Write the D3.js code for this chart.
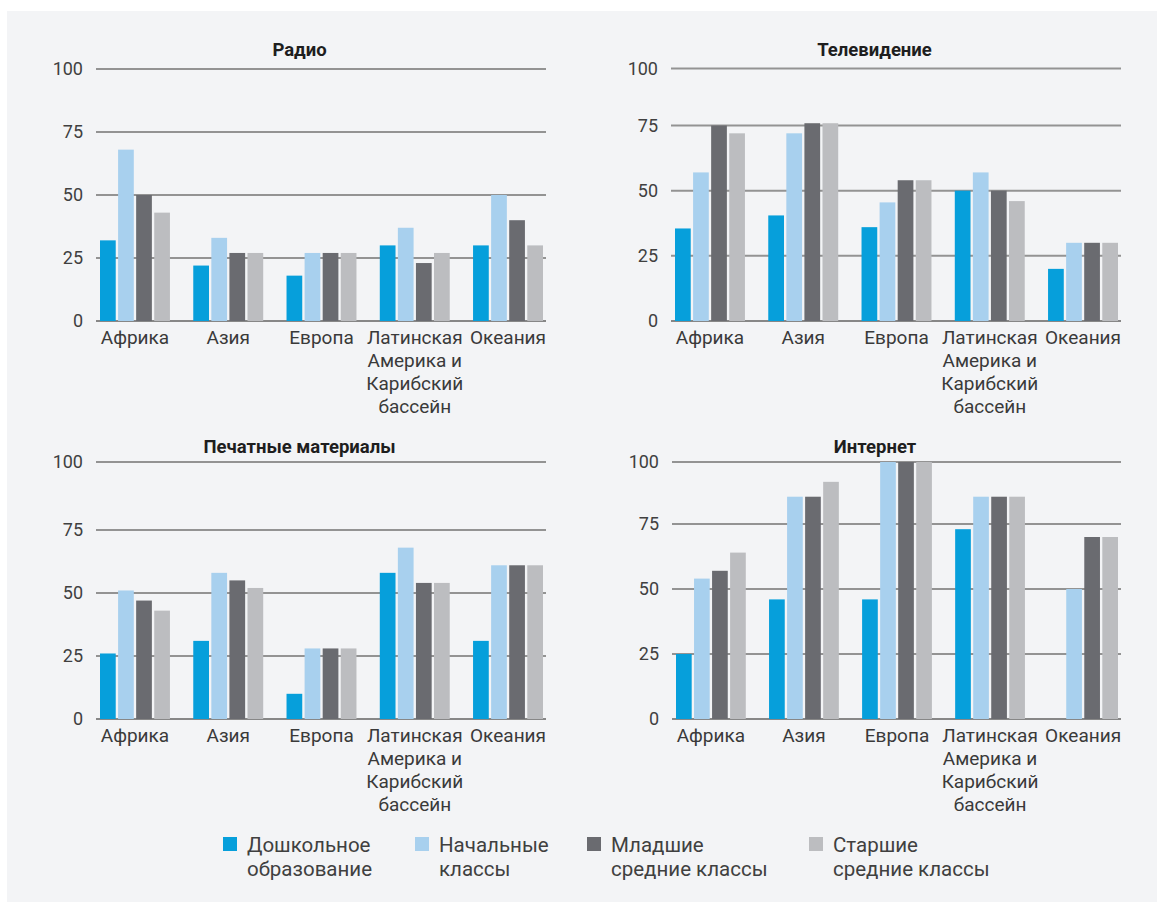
<!DOCTYPE html>
<html>
<head>
<meta charset="utf-8">
<script src="https://cdn.jsdelivr.net/npm/d3@7"></script>
<style>
  html, body { margin: 0; padding: 0; background: #ffffff; }
  svg { display: block; }
  text { font-family: Roboto, "Noto Sans", sans-serif; }
</style>
</head>
<body>
<svg id="chart" width="1157" height="902"></svg>
<script>
// ---------- data ----------
const categories = [
  ["Африка"],
  ["Азия"],
  ["Европа"],
  ["Латинская", "Америка и", "Карибский", "бассейн"],
  ["Океания"]
];
const seriesNames = [
  ["Дошкольное", "образование"],
  ["Начальные", "классы"],
  ["Младшие", "средние классы"],
  ["Старшие", "средние классы"]
];
const titles = ["Радио", "Телевидение", "Печатные материалы", "Интернет"];
const yTicks = [0, 25, 50, 75, 100];

// values per category: [дошкольное, начальные, младшие средние, старшие средние]
const radioValues = [[32, 68, 50, 43], [22, 33, 27, 27], [18, 27, 27, 27], [30, 37, 23, 27], [30, 50, 40, 30]];
const tvValues = [[35.5, 57, 75, 72], [40.5, 72, 76, 76], [36, 45.5, 54, 54], [50, 57, 50, 46], [20, 30, 30, 30]];
const printValues = [[26, 51, 47, 43], [31, 58, 55, 52], [10, 28, 28, 28], [58, 68, 54, 54], [31, 61, 61, 61]];
const internetValues = [[25, 54, 57, 64], [46, 86, 86, 92], [46, 100, 100, 100], [73, 86, 86, 86], [0, 50, 70, 70]];

// ---------- style / layout ----------
const colors = ["#069fdb", "#a8d0ee", "#6a6b70", "#bcbdc0"];
const panels = [
  { title: titles[0], values: radioValues,    gx: [96, 546],  y: [321, 132, 69],     titleY: 56 },
  { title: titles[1], values: tvValues,       gx: [671, 1121], y: [321, 125.5, 68.5], titleY: 56 },
  { title: titles[2], values: printValues,    gx: [96, 546],  y: [719, 530, 462],    titleY: 452.5 },
  { title: titles[3], values: internetValues, gx: [672, 1121], y: [719, 524, 462],    titleY: 452.5 }
];
const legendX = [223, 415, 587, 809];

const svg = d3.select("#chart");
svg.append("rect").attr("x", 7).attr("y", 11).attr("width", 1150).attr("height", 891).attr("fill", "#f3f4f6");

panels.forEach(p => {
  const g = svg.append("g");
  const y = d3.scaleLinear().domain([0, 75, 100]).range(p.y);
  const x0 = d3.scaleBand().domain(d3.range(categories.length))
    .range([p.gx[0] + 4, p.gx[1] - 3]).paddingInner(0.25).paddingOuter(0);
  const x1 = d3.scaleBand().domain(d3.range(seriesNames.length))
    .range([0, x0.bandwidth()]).paddingInner(0.13).paddingOuter(0);

  // gridlines
  g.selectAll("line.grid").data(yTicks).join("line")
    .attr("class", "grid")
    .attr("x1", p.gx[0]).attr("x2", p.gx[1])
    .attr("y1", d => y(d)).attr("y2", d => y(d))
    .attr("stroke", d => d === 0 ? "#878787" : "#939393")
    .attr("stroke-width", 2);

  // tick labels
  g.selectAll("text.tick").data(yTicks).join("text")
    .attr("class", "tick")
    .attr("x", p.gx[0] - 13).attr("y", d => y(d))
    .attr("dy", "0.36em")
    .attr("text-anchor", "end")
    .attr("font-size", 18).attr("fill", "#404040")
    .text(d => d);

  // bars
  const groups = g.selectAll("g.grp").data(p.values).join("g")
    .attr("class", "grp")
    .attr("transform", (d, i) => `translate(${x0(i)},0)`);
  groups.selectAll("rect").data(d => d).join("rect")
    .attr("x", (d, j) => x1(j))
    .attr("width", x1.bandwidth())
    .attr("y", d => y(d))
    .attr("height", d => y(0) - y(d))
    .attr("fill", (d, j) => colors[j]);

  // category labels
  const labs = g.selectAll("text.cat").data(categories).join("text")
    .attr("class", "cat")
    .attr("text-anchor", "middle")
    .attr("font-size", 19).attr("fill", "#3a3a3a")
    .attr("x", (d, i) => x0(i) + x0.bandwidth() / 2)
    .attr("y", y(0) + 22.5);
  labs.selectAll("tspan").data(d => d).join("tspan")
    .attr("x", function () { return d3.select(this.parentNode).attr("x"); })
    .attr("dy", (d, k) => k === 0 ? 0 : 23)
    .text(d => d);

  // title
  g.append("text")
    .attr("x", (p.gx[0] - 43 + p.gx[1]) / 2)
    .attr("y", p.titleY)
    .attr("text-anchor", "middle")
    .attr("font-size", 18.5).attr("font-weight", "bold").attr("fill", "#1e1e1e")
    .text(p.title);
});

// legend
const lg = svg.selectAll("g.legend").data(seriesNames).join("g")
  .attr("class", "legend")
  .attr("transform", (d, i) => `translate(${legendX[i]},837)`);
lg.append("rect").attr("width", 14).attr("height", 14)
  .attr("fill", (d, i) => colors[i]);
const lt = lg.append("text")
  .attr("x", 24).attr("y", 15)
  .attr("font-size", 20.5).attr("fill", "#404040");
lt.selectAll("tspan").data(d => d).join("tspan")
  .attr("x", 24)
  .attr("dy", (d, k) => k === 0 ? 0 : 23.5)
  .text(d => d);
</script>
</body>
</html>
